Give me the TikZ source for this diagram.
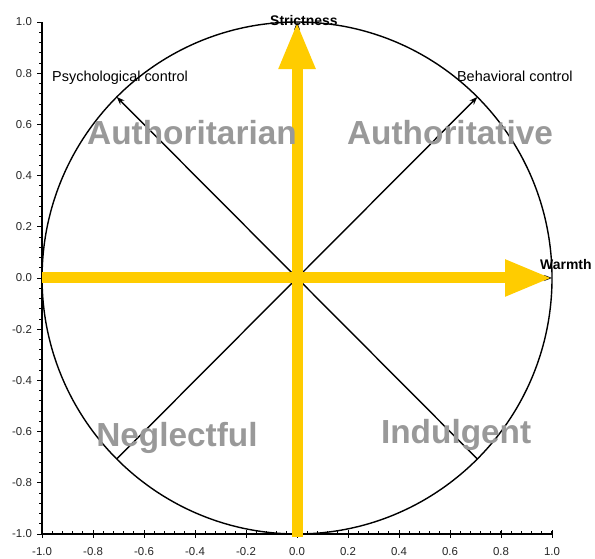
\documentclass[tikz,border=0pt]{standalone}
\usepackage{fontspec}
\setmainfont{Liberation Sans}
\usetikzlibrary{arrows.meta}
\definecolor{warmyellow}{HTML}{FFCC00}
\tikzset{
  quadlabel/.style={text=black!40, inner sep=0pt, font=\fontsize{33.5}{36}\selectfont\bfseries},
  axislabel/.style={inner sep=0pt, font=\fontsize{14}{16}\selectfont\bfseries},
  dimlabel/.style={inner sep=0pt, font=\fontsize{14.5}{16}\selectfont},
  ticklabel/.style={inner sep=0pt, text=black!85, font=\fontsize{11.5}{12}\selectfont},
  dimarrow/.style={line width=1.4bp, -{Stealth[length=8bp,width=6bp]}},
  dimline/.style={line width=1.4bp},
  bigarrow/.style={line width=11bp, draw=warmyellow, -{Triangle[length=47bp,width=34bp]}},
}
\begin{document}
\begin{tikzpicture}[x=255bp, y=256bp]
    \useasboundingbox (-1.165,-1.094) rectangle (1.1686,1.086);

    % Points
    \coordinate (O) at (0,0);
    \coordinate (N) at (0,1);
    \coordinate (E) at (1,0);
    \coordinate (W) at (-1,0);
    \coordinate (S) at (0,-1.012);
    \coordinate (NE) at (0.707,0.707);
    \coordinate (NW) at (-0.707,0.707);
    \coordinate (SE) at (0.707,-0.707);
    \coordinate (SW) at (-0.707,-0.707);
    \coordinate (BL) at (-1,-1);
    \coordinate (TL) at (-1,1);
    \coordinate (BR) at (1,-1);

    % Axes
    \draw[line width=1.2bp] (TL) -- (BL) -- (BR);
    \foreach \i in {0,...,50} {
        \draw[line width=0.9bp] (-1,{-1+0.04*\i}) -- ++(-3bp,0);
        \draw[line width=0.9bp] ({-1+0.04*\i},-1) -- ++(0,3bp);
    }
    \foreach \v/\t in {-1/-1.0,-0.8/-0.8,-0.6/-0.6,-0.4/-0.4,-0.2/-0.2,0/0.0,0.2/0.2,0.4/0.4,0.6/0.6,0.8/0.8,1/1.0} {
        \draw[line width=0.9bp] (-1,\v) -- ++(-5bp,0);
        \draw[line width=0.9bp] (\v,-1) ++(0,-4bp) -- ++(0,8bp);
        \node[ticklabel, anchor=east] (ty\t) at (-1.039,\v) {\t};
        \node[ticklabel, anchor=north] (tx\t) at (\v,-1.051) {\t};
    }

    % Circle
    \draw[dimline] (O) circle[radius=1];

    % Dimensions
    \draw[dimarrow] (O) -- (NE);
    \draw[dimarrow] (O) -- (NW);
    \draw[dimline] (O) -- (SE);
    \draw[dimline] (O) -- (SW);
    \draw[dimarrow] (O) -- (N);
    \draw[dimarrow] (O) -- (E);

    % Main axes
    \draw[bigarrow] (W) -- (E);
    \draw[bigarrow] (S) -- (N);

    % Labels
    \node[axislabel, anchor=base] (strict) at (0.027,0.988) {Strictness};
    \node[axislabel, anchor=base west] (warm) at (0.953,0.035) {Warmth};
    \node[dimlabel, anchor=base west] (psych) at (-0.961,0.766) {Psychological control};
    \node[dimlabel, anchor=base west] (behav) at (0.627,0.766) {Behavioral control};

    % Styles
    \node[quadlabel, anchor=base] (autharian) at (-0.412,0.523) {Authoritarian};
    \node[quadlabel, anchor=base] (authative) at (0.6,0.523) {Authoritative};
    \node[quadlabel, anchor=base] (neglect) at (-0.471,-0.66) {Neglectful};
    \node[quadlabel, anchor=base] (indulg) at (0.624,-0.648) {Indulgent};
\end{tikzpicture}
\end{document}
